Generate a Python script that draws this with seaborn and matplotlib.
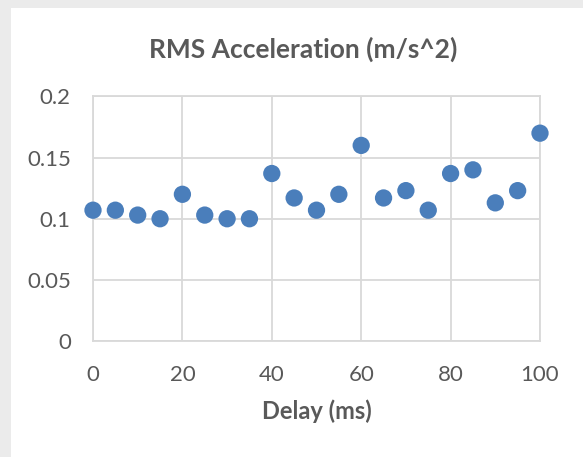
import matplotlib
matplotlib.use("Agg")
import matplotlib.pyplot as plt
import seaborn as sns
import pandas as pd
from matplotlib.patches import Rectangle

delay_ms = [0, 5, 10, 15, 20, 25, 30, 35, 40, 45, 50, 55, 60, 65, 70, 75, 80, 85, 90, 95, 100]
rms_accel = [0.107, 0.107, 0.103, 0.100, 0.120, 0.103, 0.100, 0.100, 0.137, 0.117, 0.107,
             0.120, 0.160, 0.117, 0.123, 0.107, 0.137, 0.140, 0.113, 0.123, 0.170]
x_ticks = [0, 20, 40, 60, 80, 100]
y_ticks = [0, 0.05, 0.1, 0.15, 0.2]
y_tick_labels = ["0", "0.05", "0.1", "0.15", "0.2"]

sns.set_theme(style="white")
plt.rcParams['font.family'] = ['Lato', 'DejaVu Sans']

df = pd.DataFrame({"delay": delay_ms, "rms": rms_accel})

fig = plt.figure(figsize=(5.83, 4.57), dpi=100)
fig.patch.set_facecolor("#ebebeb")
fig.patches.append(Rectangle((11 / 583, 0), 1, 1 - 8 / 457, transform=fig.transFigure,
                             facecolor="white", edgecolor="none", zorder=-5))

ax = fig.add_axes([93 / 583, 1 - 341 / 457, (540 - 93) / 583, (341 - 96.5) / 457])
ax.set_zorder(2)
ax.set_facecolor("white")
sns.scatterplot(data=df, x="delay", y="rms", ax=ax, color="#4a7ebb", s=155,
                edgecolor="none", linewidth=0, zorder=3, clip_on=False)

ax.set_xlim(0, 100)
ax.set_ylim(0, 0.2)
ax.set_xticks(x_ticks)
ax.set_yticks(y_ticks)
ax.set_yticklabels(y_tick_labels)
ax.grid(True, color="#d9d9d9", linewidth=1.3)
for sp in ax.spines.values():
    sp.set_visible(True)
    sp.set_color("#d9d9d9")
    sp.set_linewidth(1.3)
ax.tick_params(axis="both", length=0, labelsize=16, labelcolor="#595959")
ax.tick_params(axis="x", pad=17)
ax.tick_params(axis="y", pad=16)
ax.set_xlabel("Delay (ms)", fontsize=17, fontweight="bold", color="#595959", labelpad=11)
ax.set_ylabel("")
fig.text(303 / 583, 1 - 49 / 457, "RMS Acceleration (m/s^2)", ha="center", va="center",
         fontsize=19, fontweight="bold", color="#595959")

fig.savefig("out.png", dpi=100, facecolor=fig.get_facecolor())
